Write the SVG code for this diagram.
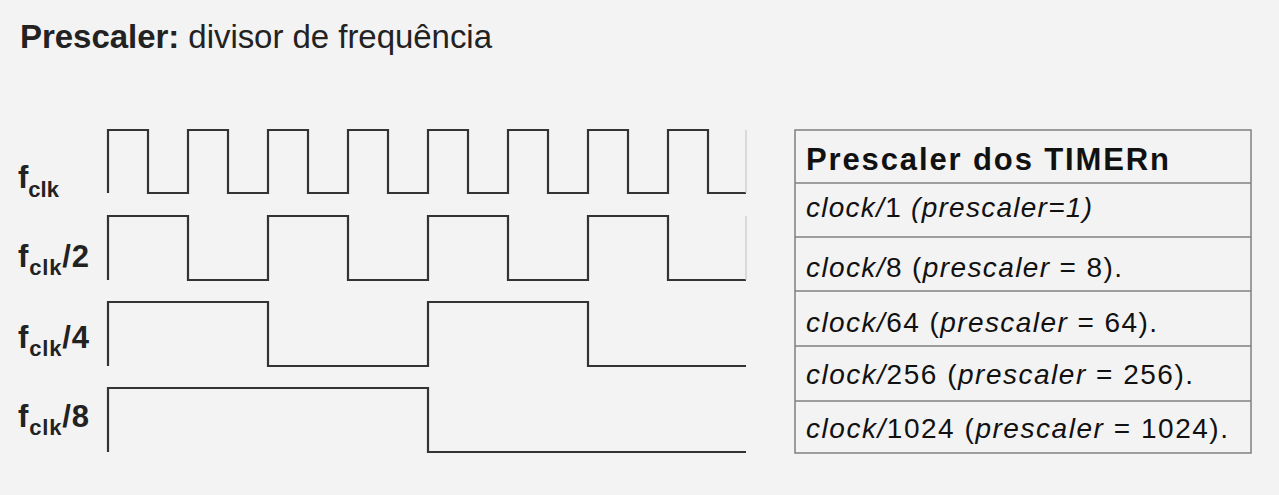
<svg xmlns="http://www.w3.org/2000/svg" width="1279" height="495" viewBox="0 0 1279 495">
<style>
.bg{fill:#f3f3f3}
.wave{fill:none;stroke:#333;stroke-width:2.2;stroke-linejoin:miter}
.faint{stroke:#c8c8c8;stroke-width:1.2}
.lbl{font-family:"Liberation Sans",Arial,sans-serif;font-weight:bold;fill:#222;font-size:31px}
.sub{font-size:22px}
.title{font-family:"Liberation Sans",Arial,sans-serif;fill:#222;font-size:33px}
.tbl{fill:none;stroke:#808080;stroke-width:1.5}
.hdr{font-family:"Liberation Sans",Arial,sans-serif;font-weight:bold;fill:#111;font-size:31px}
.row{font-family:"Liberation Sans",Arial,sans-serif;fill:#111;font-size:28px}
.it{font-style:italic}
</style>
<rect class="bg" x="0" y="0" width="1279" height="495"/>
<g id="title">
<text class="title" x="20" y="48" textLength="472" lengthAdjust="spacing"><tspan font-weight="bold">Prescaler:</tspan> divisor de frequência</text>
</g>
<g id="labels">
<text class="lbl" x="18" y="188">f<tspan class="sub" dy="9">clk</tspan></text>
<text class="lbl" x="18" y="267" textLength="71" lengthAdjust="spacing">f<tspan class="sub" dy="8">clk</tspan><tspan dy="-8">/2</tspan></text>
<text class="lbl" x="18" y="348" textLength="71" lengthAdjust="spacing">f<tspan class="sub" dy="8">clk</tspan><tspan dy="-8">/4</tspan></text>
<text class="lbl" x="18" y="427" textLength="71" lengthAdjust="spacing">f<tspan class="sub" dy="8">clk</tspan><tspan dy="-8">/8</tspan></text>
</g>
<g id="connectors">
<path id="w1" class="wave" d="M108,193 V130 H148 V193 H188 V130 H228 V193 H268 V130 H308 V193 H348 V130 H388 V193 H428 V130 H468 V193 H508 V130 H548 V193 H588 V130 H628 V193 H668 V130 H708 V193 H746"/>
<path id="w2" class="wave" d="M108,280 V216 H188 V280 H268 V216 H348 V280 H428 V216 H508 V280 H588 V216 H668 V280 H746"/>
<path id="w4" class="wave" d="M108,366 V302 H268 V366 H428 V302 H588 V366 H746"/>
<path id="w8" class="wave" d="M108,452 V388 H428 V452 H746"/>
<line class="faint" x1="746" y1="130" x2="746" y2="193"/>
<line class="faint" x1="746" y1="216" x2="746" y2="280"/>
</g>
<g id="table">
<rect class="tbl" x="795" y="130" width="456" height="323"/>
<line class="tbl" x1="795" y1="183" x2="1251" y2="183"/>
<line class="tbl" x1="795" y1="237" x2="1251" y2="237"/>
<line class="tbl" x1="795" y1="291" x2="1251" y2="291"/>
<line class="tbl" x1="795" y1="346" x2="1251" y2="346"/>
<line class="tbl" x1="795" y1="401" x2="1251" y2="401"/>
<text class="hdr" x="806" y="170" textLength="363" lengthAdjust="spacing">Prescaler dos TIMERn</text>
<text class="row" x="806" y="217" textLength="286" lengthAdjust="spacing"><tspan class="it">clock/</tspan>1 <tspan class="it">(prescaler=1)</tspan></text>
<text class="row" x="806" y="277" textLength="316" lengthAdjust="spacing"><tspan class="it">clock/</tspan>8 (<tspan class="it">prescaler</tspan> = 8).</text>
<text class="row" x="806" y="332" textLength="351" lengthAdjust="spacing"><tspan class="it">clock/</tspan>64 (<tspan class="it">prescaler</tspan> = 64).</text>
<text class="row" x="806" y="384" textLength="387" lengthAdjust="spacing"><tspan class="it">clock/</tspan>256 (<tspan class="it">prescaler</tspan> = 256).</text>
<text class="row" x="806" y="438" textLength="422" lengthAdjust="spacing"><tspan class="it">clock/</tspan>1024 (<tspan class="it">prescaler</tspan> = 1024).</text>
</g>
</svg>
